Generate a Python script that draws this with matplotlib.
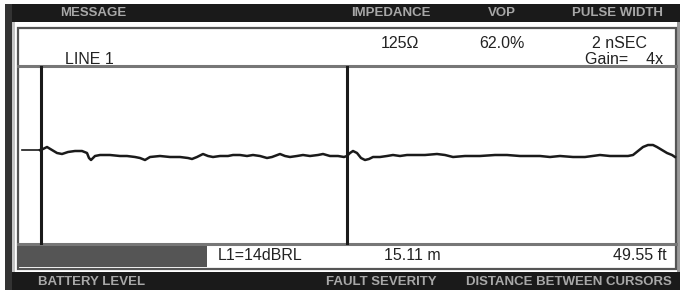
import matplotlib
matplotlib.use("Agg")
import matplotlib.pyplot as plt
from matplotlib.patches import Rectangle

plt.rcParams['font.family'] = ['Liberation Sans', 'DejaVu Sans']

# screen captions
top_labels = ["MESSAGE", "IMPEDANCE", "VOP", "PULSE WIDTH"]
top_label_x = [93, 391, 502, 617]
bottom_labels = ["BATTERY LEVEL", "FAULT SEVERITY", "DISTANCE BETWEEN CURSORS"]
bottom_label_x = [92, 381, 569]

# settings read-out
impedance = "125\u03a9"
vop = "62.0%"
pulse_width = "2 nSEC"
gain = "Gain=    4x"
line_name = "LINE 1"
rl_text = "L1=14dBRL"
dist_m = "15.11 m"
dist_ft = "49.55 ft"

# cursor positions (screen px) and TDR trace
cursor1 = 41
cursor2 = 347
trace_x = [40, 43, 47, 52, 57, 62, 68, 75, 82, 87, 89, 91, 95, 100, 110, 120, 127, 135,
           140, 145, 150, 160, 170, 180, 188, 192, 197, 203, 208, 213, 220, 228, 233, 240,
           247, 253, 260, 267, 272, 280, 285, 290, 297, 303, 310, 318, 323, 330, 338, 344,
           347, 350, 353, 357, 361, 365, 369, 373, 380, 387, 393, 400, 407, 415, 425, 437,
           445, 453, 465, 480, 495, 507, 520, 530, 540, 550, 560, 573, 585, 600, 610, 620,
           628, 633, 638, 643, 648, 653, 657, 662, 667, 672, 675]
trace_y = [150, 149, 147, 150, 153, 154, 152, 151, 151, 153, 158, 160, 156, 155, 155, 156, 156, 157,
           158, 160, 157, 156, 157, 157, 158, 159, 157, 154, 156, 157, 156, 156, 155, 155,
           156, 155, 156, 158, 157, 154, 156, 157, 156, 155, 156, 155, 154, 156, 156, 157,
           156, 153, 151, 153, 158, 160, 159, 157, 157, 156, 155, 156, 155, 155, 155, 154,
           155, 157, 156, 156, 155, 155, 156, 156, 156, 157, 156, 157, 157, 155, 156, 156,
           156, 155, 151, 147, 145, 145, 147, 150, 153, 155, 157]

fig = plt.figure(figsize=(6.8, 2.9), dpi=100)
ax = fig.add_axes([0, 0, 1, 1])
ax.set_xlim(0, 680)
ax.set_ylim(290, 0)
ax.axis("off")

# black frame bands
ax.add_patch(Rectangle((5, 4), 675, 18, color="#1a1a1a", lw=0))
ax.add_patch(Rectangle((5, 272), 675, 18, color="#1a1a1a", lw=0))
ax.add_patch(Rectangle((5, 4), 7, 286, color="#333333", lw=0))
ax.add_patch(Rectangle((12, 22), 3, 250, color="#c4c4c4", lw=0))
ax.add_patch(Rectangle((677, 22), 3, 250, color="#9a9a9a", lw=0))

# inner box and separators
ax.add_patch(Rectangle((18, 28), 658, 241, fill=False, ec="#555555", lw=1.6))
ax.plot([18, 676], [66, 66], color="#777777", lw=2.2)
ax.plot([18, 676], [244, 244], color="#777777", lw=2.2)
ax.add_patch(Rectangle((19, 245), 188, 22, color="#555555", lw=0))

for lab, x in zip(top_labels, top_label_x):
    ax.text(x, 13, lab, color="#a8a8a8", fontsize=9.5, fontweight="bold", ha="center", va="center")
for lab, x in zip(bottom_labels, bottom_label_x):
    ax.text(x, 282, lab, color="#a8a8a8", fontsize=9.5, fontweight="bold", ha="center", va="center")

fs = 11.5
ax.text(400, 44, impedance, fontsize=fs, ha="center", va="center", color="#222222")
ax.text(502, 44, vop, fontsize=fs, ha="center", va="center", color="#222222")
ax.text(619, 44, pulse_width, fontsize=fs, ha="center", va="center", color="#222222")
ax.text(663, 60, gain, fontsize=fs, ha="right", va="center", color="#222222")
ax.text(65, 60, line_name, fontsize=fs, ha="left", va="center", color="#222222")
ax.text(218, 255, rl_text, fontsize=fs, ha="left", va="center", color="#222222")
ax.text(412, 255, dist_m, fontsize=fs, ha="center", va="center", color="#222222")
ax.text(667, 255, dist_ft, fontsize=fs, ha="right", va="center", color="#222222")

# trace area
ax.plot([cursor1, cursor1], [67, 243], color="#1a1a1a", lw=2.2)
ax.plot([cursor2, cursor2], [67, 243], color="#1a1a1a", lw=2.2)
ax.plot([22, cursor1], [trace_y[0], trace_y[0]], color="#1a1a1a", lw=1.2)
ax.plot(trace_x, trace_y, color="#1a1a1a", lw=1.8)

fig.savefig("out.png", dpi=100)
